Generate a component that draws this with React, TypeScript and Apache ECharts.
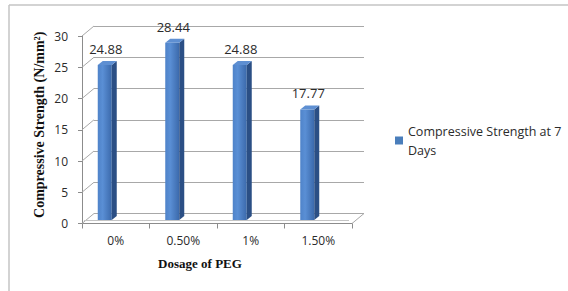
import React, { useEffect, useRef } from 'react';
import * as echarts from 'echarts';

const categories = ['0%', '0.50%', '1%', '1.50%'];
const strengthValues = [24.88, 28.44, 24.88, 17.77];
const yTicks = [0, 5, 10, 15, 20, 25, 30];
const seriesName = 'Compressive Strength at 7 Days';
const xTitle = 'Dosage of PEG';
const yTitle = 'Compressive Strength (N/mm²)';

const DX = 12;
const DY = -10;
const GRID_LEFT = 82;
const GRID_WIDTH = 270;
const GRID_TOP = 36;
const GRID_HEIGHT = 187.5;
const AXIS_COLOR = '#8c8c8c';
const GRID_COLOR = '#a8a8a8';
const LABEL_FONT = "'Open Sans', sans-serif";
const TITLE_FONT = "'Liberation Serif', 'Times New Roman', serif";
const TEXT_COLOR = '#2b2b2b';

export default function App() {
  const ref = useRef<HTMLDivElement>(null);

  useEffect(() => {
    if (!ref.current) return;
    const chart = echarts.init(ref.current, undefined, { renderer: 'svg' });

    const barRender = (params: any, api: any) => {
      const i = api.value(0);
      const v = api.value(1);
      const top = api.coord([i, v]);
      const base = api.coord([i, 0]);
      const W = 14;
      const D = 5;
      const H = 4;
      const x0 = top[0] - 18;
      const yt = top[1] - 3;
      const yb = base[1] - 3.5;
      return {
        type: 'group',
        children: [
          {
            type: 'rect',
            shape: { x: x0, y: yt, width: W, height: yb - yt },
            style: {
              fill: new echarts.graphic.LinearGradient(0, 0, 1, 0, [
                { offset: 0, color: '#4f83c9' },
                { offset: 0.35, color: '#5a8fd5' },
                { offset: 1, color: '#3b69ab' },
              ]),
            },
          },
          {
            type: 'polygon',
            shape: {
              points: [
                [x0 + W, yt],
                [x0 + W + D, yt - H],
                [x0 + W + D, yb - H],
                [x0 + W, yb],
              ],
            },
            style: { fill: '#2b4f85' },
          },
          {
            type: 'polygon',
            shape: {
              points: [
                [x0, yt],
                [x0 + D, yt - H],
                [x0 + W + D, yt - H],
                [x0 + W, yt],
              ],
            },
            style: { fill: '#5e8fd2' },
          },
          {
            type: 'text',
            style: {
              x: x0 + W / 2 + 1,
              y: yt - H - 12,
              text: v.toFixed(2),
              align: 'center',
              verticalAlign: 'middle',
              fontFamily: LABEL_FONT,
              fontSize: 13,
              fill: TEXT_COLOR,
            },
          },
        ],
      };
    };

    const diagRender = (params: any, api: any) => {
      const cs = params.coordSys;
      const y = api.coord([0, api.value(1)])[1];
      return {
        type: 'line',
        shape: { x1: cs.x, y1: y, x2: cs.x + DX, y2: y + DY },
        style: { stroke: GRID_COLOR, lineWidth: 1 },
      };
    };

    const floorRender = (params: any, api: any) => {
      const cs = params.coordSys;
      const y = api.coord([0, api.value(1)])[1];
      const xr = cs.x + cs.width;
      return {
        type: 'group',
        children: [
          {
            type: 'line',
            shape: { x1: xr, y1: y, x2: xr + DX, y2: y + DY },
            style: { stroke: GRID_COLOR, lineWidth: 1 },
          },
          {
            type: 'line',
            shape: { x1: cs.x + 2, y1: y - 3, x2: xr - 3, y2: y - 3 },
            style: { stroke: '#c4c4c4', lineWidth: 1 },
          },
        ],
      };
    };

    chart.setOption({
      animation: false,
      backgroundColor: '#ffffff',
      grid: [
        { left: GRID_LEFT, top: GRID_TOP, width: GRID_WIDTH, height: GRID_HEIGHT },
        { left: GRID_LEFT + DX, top: GRID_TOP + DY, width: GRID_WIDTH, height: GRID_HEIGHT },
      ],
      xAxis: [
        {
          type: 'category',
          gridIndex: 0,
          data: categories,
          boundaryGap: true,
          name: xTitle,
          nameLocation: 'middle',
          nameGap: 33,
          nameTextStyle: {
            fontFamily: TITLE_FONT,
            fontWeight: 'bold',
            fontSize: 13,
            color: '#111111',
            padding: [0, 34, 0, 0],
          },
          axisLine: { show: true, lineStyle: { color: AXIS_COLOR, width: 1 } },
          axisTick: { show: true, length: 5, alignWithLabel: false, lineStyle: { color: AXIS_COLOR } },
          axisLabel: { margin: 11, fontFamily: LABEL_FONT, fontSize: 12, color: TEXT_COLOR },
          splitLine: { show: false },
        },
        {
          type: 'category',
          gridIndex: 1,
          data: categories,
          show: false,
        },
      ],
      yAxis: [
        {
          type: 'value',
          gridIndex: 0,
          min: 0,
          max: 30,
          interval: 5,
          name: yTitle,
          nameLocation: 'middle',
          nameRotate: 90,
          nameGap: 36,
          nameTextStyle: {
            fontFamily: TITLE_FONT,
            fontWeight: 'bold',
            fontSize: 14,
            color: '#111111',
            padding: [0, 0, 0, 10],
          },
          axisLine: { show: true, lineStyle: { color: AXIS_COLOR, width: 1 } },
          axisTick: { show: true, length: 4, lineStyle: { color: AXIS_COLOR } },
          axisLabel: { margin: 14, fontFamily: LABEL_FONT, fontSize: 12, color: TEXT_COLOR },
          splitLine: { show: false },
        },
        {
          type: 'value',
          gridIndex: 1,
          min: 0,
          max: 30,
          interval: 5,
          axisLine: { show: false },
          axisTick: { show: false },
          axisLabel: { show: false },
          splitLine: { show: true, lineStyle: { color: GRID_COLOR, width: 1 } },
        },
      ],
      legend: {
        show: true,
        left: 395,
        top: 112,
        padding: 0,
        icon: 'rect',
        itemWidth: 8,
        itemHeight: 8,
        data: [seriesName],
        formatter: () => 'Compressive Strength at 7\nDays',
        textStyle: {
          fontFamily: LABEL_FONT,
          fontSize: 12.5,
          lineHeight: 19,
          color: TEXT_COLOR,
          padding: [19, 0, 0, 0],
        },
      },
      series: [
        {
          type: 'custom',
          name: 'diagonals',
          xAxisIndex: 0,
          yAxisIndex: 0,
          silent: true,
          data: yTicks.map((v) => [0, v]),
          renderItem: diagRender,
          z: 1,
        },
        {
          type: 'custom',
          name: 'floor',
          xAxisIndex: 0,
          yAxisIndex: 0,
          silent: true,
          data: [[0, yTicks[0]]],
          renderItem: floorRender,
          z: 1,
        },
        {
          type: 'custom',
          name: seriesName,
          xAxisIndex: 0,
          yAxisIndex: 0,
          itemStyle: { color: '#4a7ebb' },
          data: strengthValues.map((v, i) => [i, v]),
          renderItem: barRender,
          z: 5,
        },
      ],
      graphic: [
        {
          type: 'line',
          shape: { x1: 9, y1: 5, x2: 568, y2: 5 },
          style: { stroke: '#c4c4c4', lineWidth: 1.5 },
        },
        {
          type: 'line',
          shape: { x1: 9, y1: 5, x2: 9, y2: 291 },
          style: { stroke: '#c4c4c4', lineWidth: 1.5 },
        },
      ],
    });

    return () => chart.dispose();
  }, []);

  return (
    <div
      ref={ref}
      style={{ position: 'absolute', left: 0, top: 0, width: 568, height: 291 }}
    />
  );
}
